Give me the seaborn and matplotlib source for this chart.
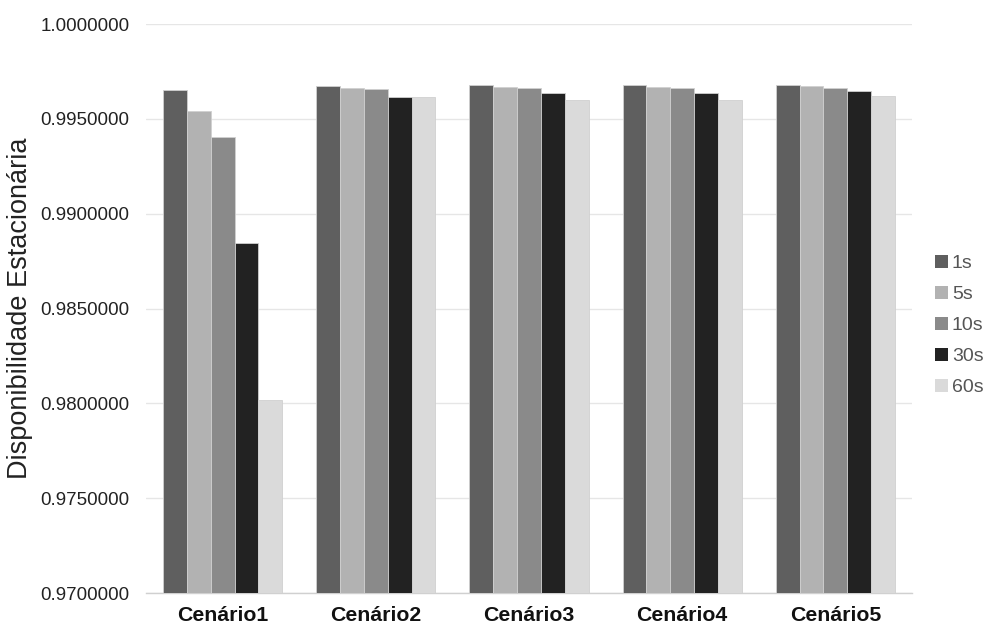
import matplotlib
matplotlib.use("Agg")
import matplotlib.pyplot as plt
import seaborn as sns
import pandas as pd
from matplotlib.ticker import FormatStrFormatter

cenarios = ["Cenário1", "Cenário2", "Cenário3", "Cenário4", "Cenário5"]
intervalos = ["1s", "5s", "10s", "30s", "60s"]
v_1s = [0.99650, 0.99674, 0.99676, 0.99676, 0.99676]
v_5s = [0.99539, 0.99665, 0.99669, 0.99670, 0.99672]
v_10s = [0.99402, 0.99655, 0.99662, 0.99662, 0.99665]
v_30s = [0.98845, 0.99613, 0.99637, 0.99637, 0.99646]
v_60s = [0.98018, 0.99613, 0.99597, 0.99597, 0.99618]
cores = ["#5f5f5f", "#b2b2b2", "#8a8a8a", "#222222", "#dadada"]

series = {"1s": v_1s, "5s": v_5s, "10s": v_10s, "30s": v_30s, "60s": v_60s}
rows = []
for k, vals in series.items():
    for c, v in zip(cenarios, vals):
        rows.append({"Cenario": c, "Intervalo": k, "Valor": v})
df = pd.DataFrame(rows)

sns.set_theme(style="white")
plt.rcParams["font.family"] = ["Liberation Sans", "DejaVu Sans"]

fig = plt.figure(figsize=(9.9, 6.27), dpi=100)
ax = fig.add_axes([0.1475, 0.0542, 0.7737, 0.9075])

sns.barplot(data=df, x="Cenario", y="Valor", hue="Intervalo", order=cenarios,
            hue_order=intervalos, palette=cores, width=0.777, gap=0,
            saturation=1, ax=ax, linewidth=0.6, edgecolor="#d0d0d0", zorder=3)

ax.set_ylim(0.97, 1.0)
ax.set_yticks([0.97, 0.975, 0.98, 0.985, 0.99, 0.995, 1.0])
ax.yaxis.set_major_formatter(FormatStrFormatter("%.7f"))
ax.yaxis.grid(True, color="#e6e6e6", linewidth=1, zorder=0)
ax.set_axisbelow(True)
for s in ["top", "right", "left"]:
    ax.spines[s].set_visible(False)
ax.spines["bottom"].set_color("#d0d0d0")
ax.spines["bottom"].set_linewidth(1)
ax.tick_params(axis="y", labelsize=13.5, colors="#222222", length=0, pad=12)
ax.tick_params(axis="x", labelsize=15.3, length=0, pad=9)
for lbl in ax.get_xticklabels():
    lbl.set_fontweight("bold")
    lbl.set_color("#111111")
ax.set_xlabel("")
ax.set_ylabel("Disponibilidade Estacionária", fontsize=19.5, color="#222222")
ax.yaxis.set_label_coords(-0.148, 0.5)

handles, labels = ax.get_legend_handles_labels()
leg = ax.legend(handles, labels, loc="center left", bbox_to_anchor=(1.0, 0.47),
                frameon=False, fontsize=14, handlelength=0.65, handleheight=0.65,
                labelspacing=0.7, handletextpad=0.2, borderaxespad=0.8)
for t in leg.get_texts():
    t.set_color("#555555")
for h in leg.legend_handles:
    h.set_edgecolor("none")

fig.savefig("out.png", dpi=100)
